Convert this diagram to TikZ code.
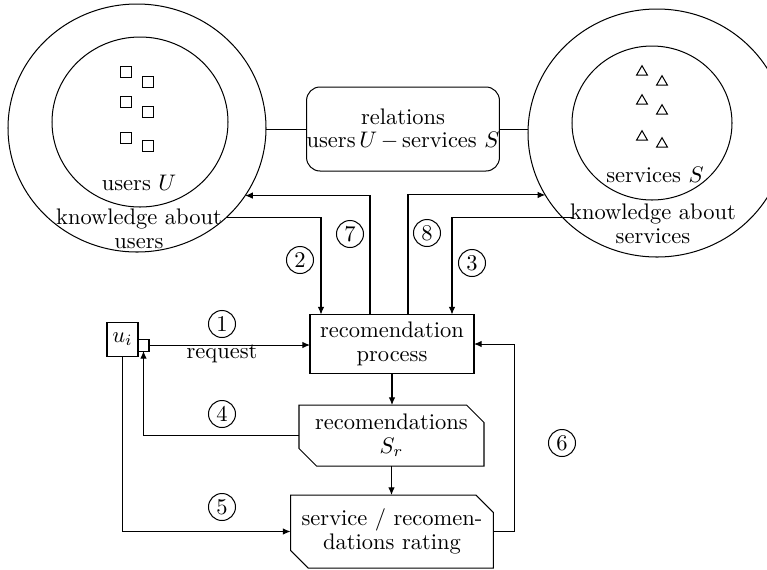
\documentclass[tikz,border=0pt]{standalone}
\usetikzlibrary{arrows.meta,shapes.geometric,shapes.misc,calc}
\newdimen\pxu
\pxu=0.4444pt
\begin{document}
\begin{tikzpicture}[x=0.4444pt,y=-0.4444pt,line width=0.45pt,>={Latex[length=3.4pt,width=2.9pt]}]
\tikzstyle{every node}+=[inner sep=0pt,outer sep=0pt,font=\fontsize{10pt}{10.4pt}\selectfont]
\tikzstyle{ring}=[draw,ellipse]
\tikzstyle{num}=[draw,circle,minimum size=12pt]
\tikzstyle{elem}=[draw,minimum size=4.7pt]
\tikzstyle{tri}=[draw,regular polygon,regular polygon sides=3,minimum size=5.6pt]
\tikzstyle{proc}=[draw,align=center]
\tikzstyle{card}=[draw,align=center,chamfered rectangle,chamfered rectangle corners={north east,south west},chamfered rectangle xsep=4.9pt]
\clip (0,0) rectangle (767,569);
\node[ring,minimum width=258\pxu,minimum height=248\pxu] (Uout) at (137,128) {};
\node[ring,minimum width=176\pxu,minimum height=170\pxu] (Uin) at (140,122) {};
\node[ring,minimum width=258\pxu,minimum height=248\pxu] (Sout) at (657,133) {};
\node[ring,minimum width=160\pxu,minimum height=154\pxu] (Sin) at (652,123) {};
\foreach \x/\y [count=\i] in {126/72,148/82,126/102,148/112,126/138,148/146}
  \node[elem] (user\i) at (\x,\y) {};
\foreach \x/\y [count=\i] in {642/72,662/82,642/101,662/111,642/137,662/144}
  \node[tri] (serv\i) at (\x,\y) {};
\node (Ulab) at (139,183) {users $U$};
\node[align=center] (Uknow) at (139,229) {knowledge about\\users};
\node (Slab) at (655,175) {services $S$};
\node[align=center] (Sknow) at (653,224) {knowledge about\\services};
\coordinate (ks) at (573,217);
\node[draw,rounded corners=6pt,align=center,minimum width=188\pxu,minimum height=84\pxu] (rel) at (403,129) {relations\\users\,$U\,{-}\,$services $S$};
\node[proc,minimum width=164\pxu,minimum height=59\pxu] (proc) at (392,344) {recomendation\\process};
\node[card,minimum width=185\pxu,minimum height=61\pxu] (recs) at (391.5,435.5) {recomendations\\$S_r$};
\node[card,minimum width=200\pxu,minimum height=73\pxu] (rate) at (392,531.5) {service / recomen-\\dations rating};
\node[draw,minimum width=31\pxu,minimum height=34\pxu] (ui) at (122.5,339) {$u_i$};
\node[draw,minimum width=11\pxu,minimum height=12\pxu] (port) at (143.5,345) {};
\node (req) at (222,354) {request};
\node[num] (n1) at (222,324) {1};
\node[num] (n2) at (300,260) {2};
\node[num] (n3) at (472,263) {3};
\node[num] (n4) at (222,414) {4};
\node[num] (n5) at (222,507) {5};
\node[num] (n6) at (562,443) {6};
\node[num] (n7) at (350,234) {7};
\node[num] (n8) at (427,233) {8};
\draw (Uout.east |- rel.west) -- (rel.west);
\draw (rel.east) -- (rel.east -| Sout.west);
\draw[->] (Uout.-45) -| ($(proc.north west)+(11,0)$);
\draw[->] ($(proc.north west)+(60,0)$) |- (Uout.-32);
\draw[->] ($(proc.north west)+(98,0)$) |- (Sout.-151);
\draw[->] (ks) -| ($(proc.north west)+(142,0)$);
\draw[->] (port.east) -- (port.east -| proc.west);
\draw[->] (proc.south) -- (proc.south |- recs.north);
\draw[->] (recs.south) -- (recs.south |- rate.north);
\draw[->] (recs.west) -| (port.south);
\draw[->] (ui.south) |- (rate.west);
\draw[->] (rate.east) -- ++(21,0) |- (proc.east);
\end{tikzpicture}
\end{document}
